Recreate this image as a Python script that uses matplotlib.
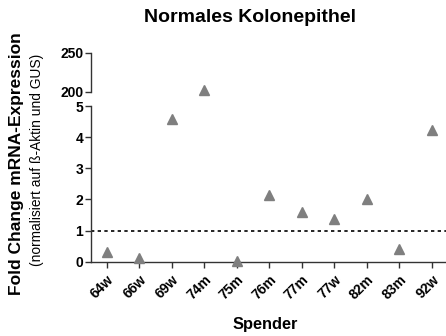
import matplotlib
matplotlib.use("Agg")
import matplotlib.pyplot as plt

plt.rcParams['font.family'] = ['Liberation Sans', 'DejaVu Sans']

donors = ["64w", "66w", "69w", "74m", "75m", "76m", "77m", "77w", "82m", "83m", "92w"]
fold_change = [0.30, 0.13, 4.58, 202.0, 0.02, 2.14, 1.59, 1.38, 2.00, 0.42, 4.24]
lower_ticks = [0, 1, 2, 3, 4, 5]
upper_ticks = [200, 250]
reference_level = 1.0

W, H = 446, 336
fig = plt.figure(figsize=(W / 100, H / 100), dpi=100)

def box(x0, y0, x1, y1):
    return [x0 / W, 1 - y1 / H, (x1 - x0) / W, (y1 - y0) / H]

# broken y-axis: lower segment 0-5, upper segment 200-250
ax_lo = fig.add_axes(box(91, 106, 447, 261.7))
ax_hi = fig.add_axes(box(91, 52.7, 447, 91.5))

xs = list(range(len(donors)))
marker_kw = dict(marker='^', ms=7.5, color='#7f7f7f', ls='none', clip_on=False, zorder=3)

lo_x = [x for x, v in zip(xs, fold_change) if v <= 5]
lo_y = [v for v in fold_change if v <= 5]
hi_x = [x for x, v in zip(xs, fold_change) if v > 5]
hi_y = [v for v in fold_change if v > 5]

ax_lo.plot(lo_x, lo_y, **marker_kw)
ax_hi.plot(hi_x, hi_y, **marker_kw)

ax_lo.axhline(reference_level, color='black', lw=1.2, ls=(0, (2, 2)), zorder=2)

xlim = (-0.483, 10.47)
for ax in (ax_lo, ax_hi):
    ax.set_xlim(*xlim)
    for s in ('top', 'right'):
        ax.spines[s].set_visible(False)
    ax.spines['left'].set_linewidth(1.0)
    ax.spines['left'].set_color('#333333')
    ax.tick_params(axis='y', direction='out', length=4, width=1.0, color='#333333',
                   labelsize=10, pad=1.5)

ax_lo.set_ylim(0, 5)
ax_lo.set_yticks(lower_ticks)
ax_lo.set_yticklabels([str(t) for t in lower_ticks], fontweight='bold')
ax_lo.spines['bottom'].set_linewidth(1.0)
ax_lo.spines['bottom'].set_color('#333333')
ax_lo.set_xticks(xs)
ax_lo.set_xticklabels(donors, rotation=45, ha='right', rotation_mode='anchor',
                      fontweight='bold', fontsize=10)
ax_lo.tick_params(axis='x', direction='out', length=4, width=1.0, color='#333333', pad=4)

ax_hi.set_ylim(200, 250)
ax_hi.set_yticks(upper_ticks)
ax_hi.set_yticklabels([str(t) for t in upper_ticks], fontweight='bold')
ax_hi.spines['bottom'].set_visible(False)
ax_hi.set_xticks([])
ax_hi.patch.set_alpha(0)

fig.text(250 / W, 1 - 17 / H, "Normales Kolonepithel", ha='center', va='center',
         fontsize=14, fontweight='bold')
fig.text(265 / W, 1 - 325 / H, "Spender", ha='center', va='center',
         fontsize=11.8, fontweight='bold')
fig.text(17 / W, 1 - 164 / H, "Fold Change mRNA-Expression", rotation=90,
         ha='center', va='center', fontsize=12.5, fontweight='bold')
fig.text(37 / W, 1 - 160 / H, "(normalisiert auf ß-Aktin und GUS)", rotation=90,
         ha='center', va='center', fontsize=9.9)

fig.savefig("out.png", dpi=100)
